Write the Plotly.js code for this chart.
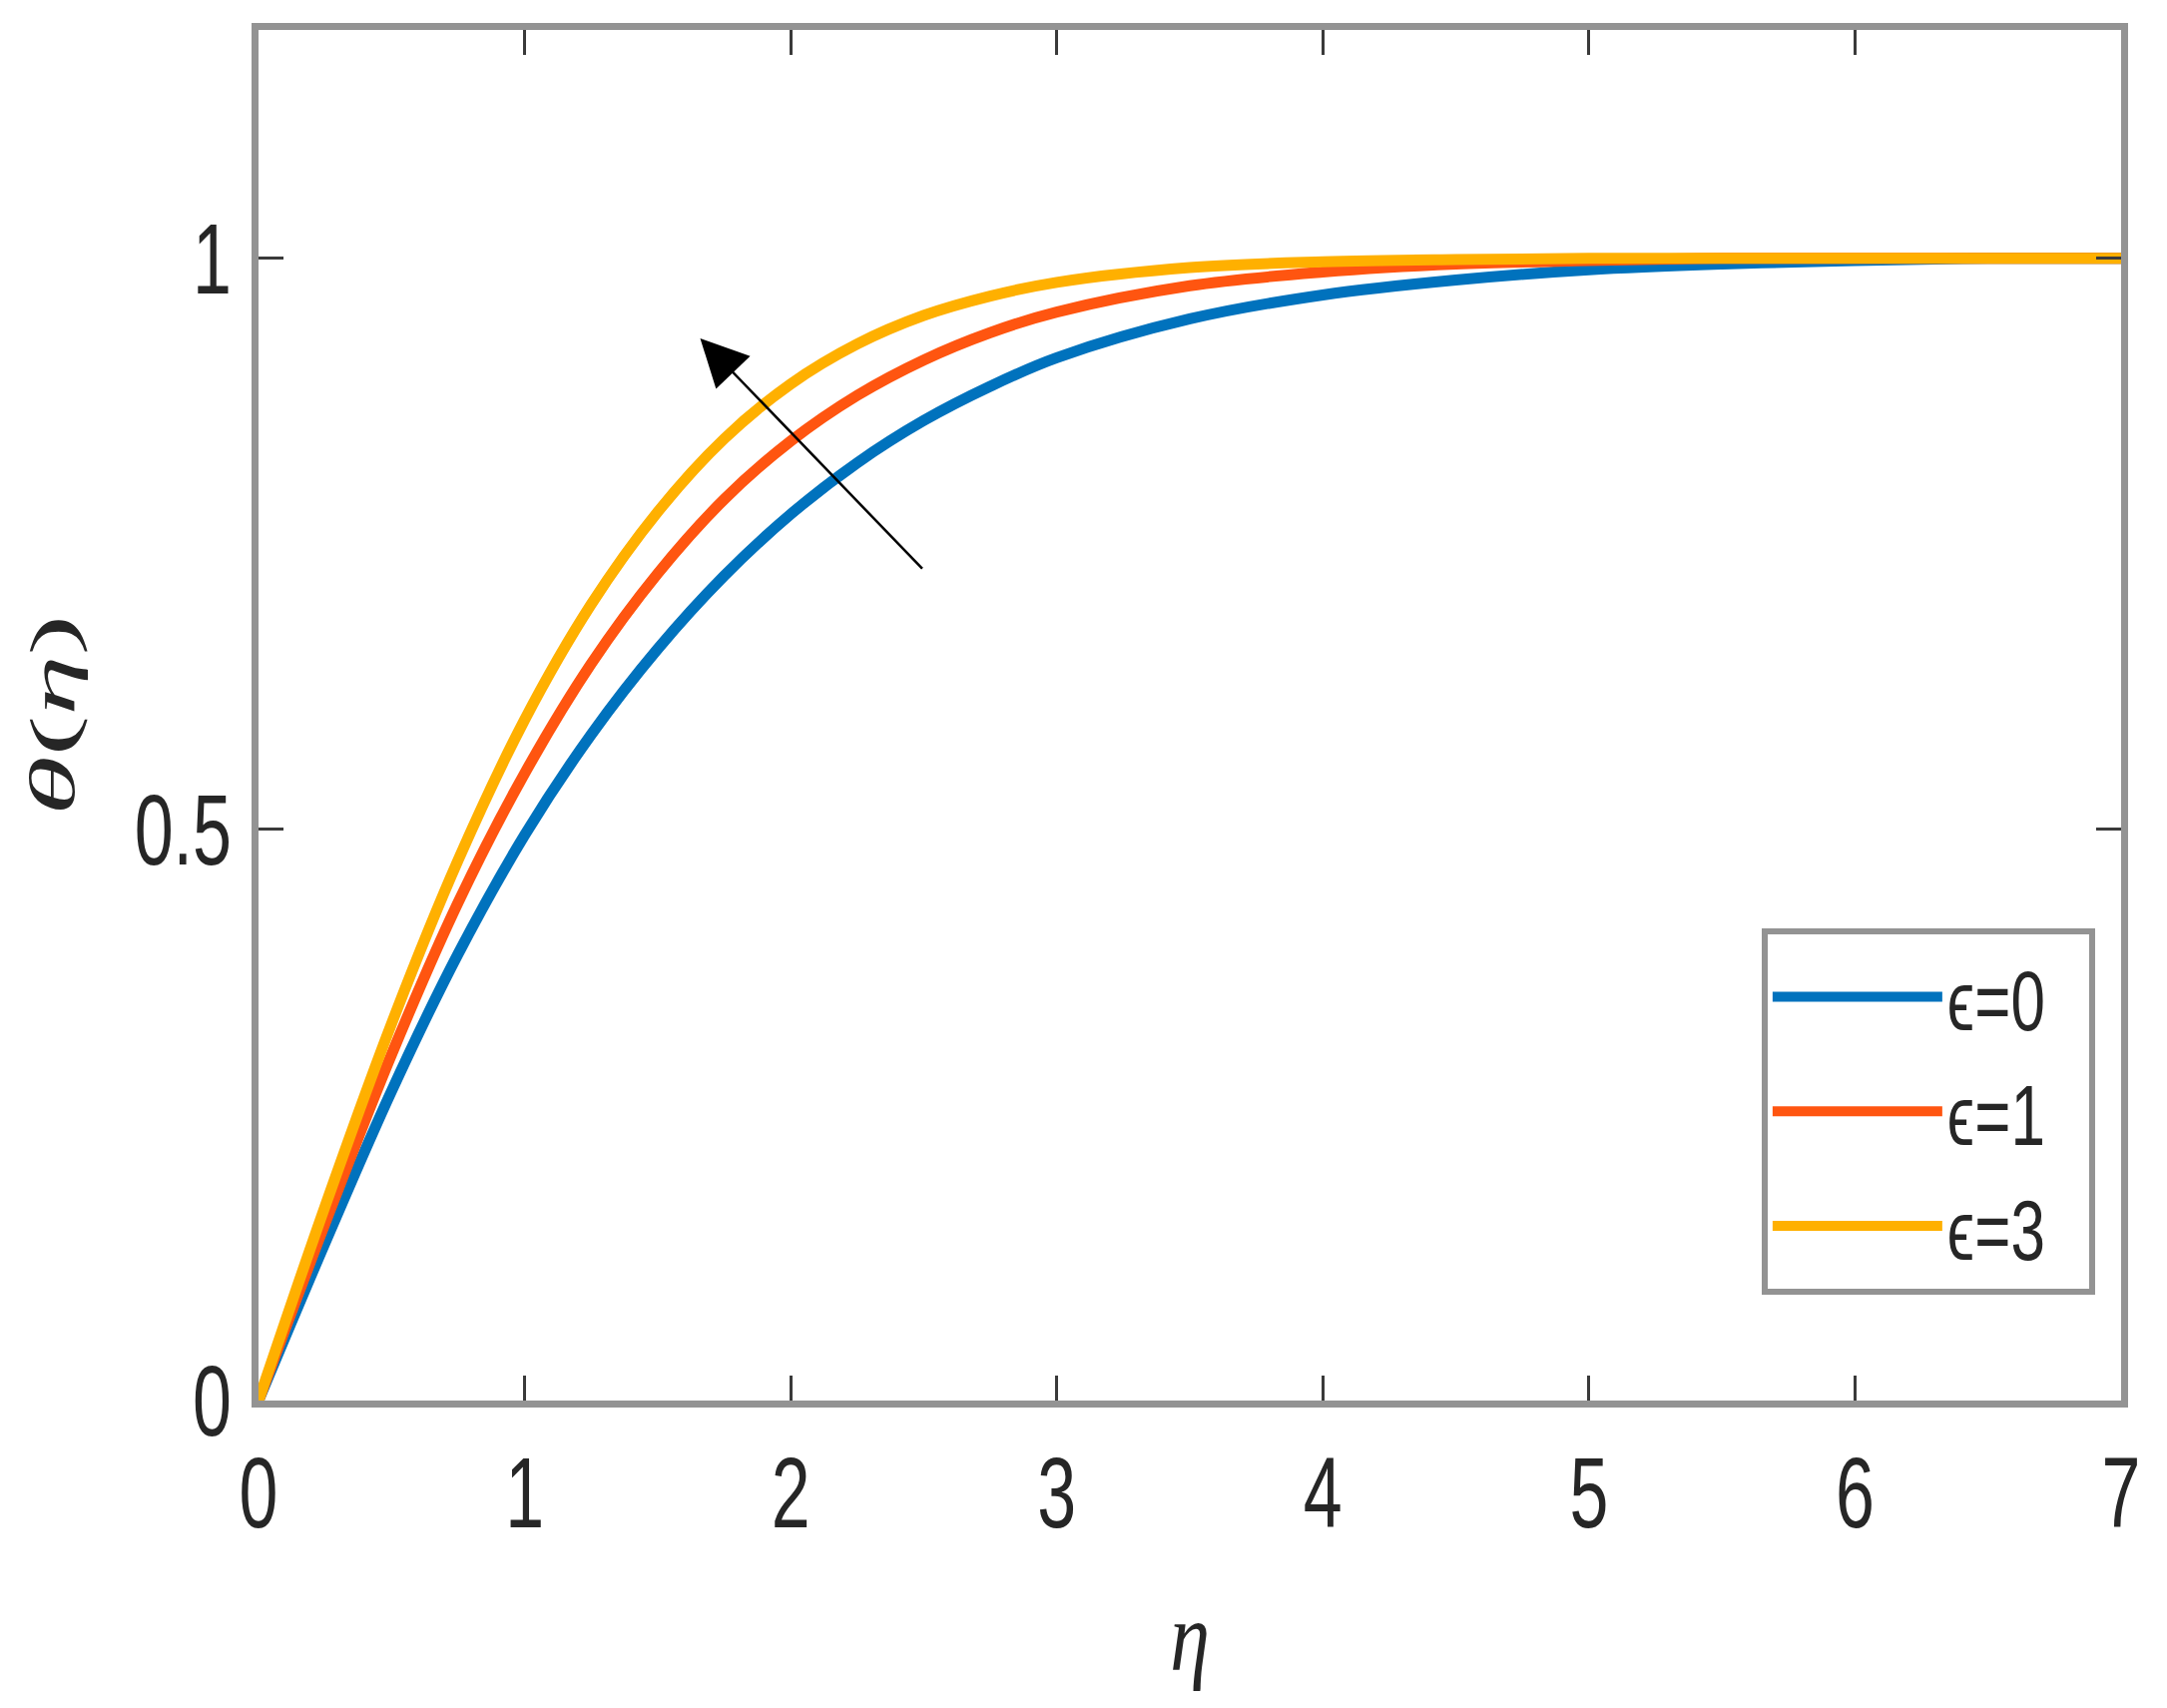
<!DOCTYPE html>
<html>
<head>
<meta charset="utf-8">
<script src="https://cdn.plot.ly/plotly-3.0.1.min.js"></script>
<style>
  html, body { margin: 0; padding: 0; background: #ffffff; }
  #theta_plot { width: 2171px; height: 1711px; }
</style>
</head>
<body>
<div id="theta_plot"></div>
<script>
// theta(eta) profiles for three epsilon values
var eta = [0, 0.25, 0.5, 0.75, 1, 1.25, 1.5, 1.75, 2, 2.25, 2.5, 2.75, 3, 3.5, 4, 4.5, 5, 5.5, 6, 6.5, 7];

var theta_eps0 = [0, 0.138, 0.271, 0.391, 0.495, 0.583, 0.658, 0.722, 0.776, 0.821, 0.858, 0.888, 0.913, 0.947, 0.968, 0.981, 0.990, 0.995, 0.998, 1.0, 1.0];
var theta_eps1 = [0, 0.155, 0.303, 0.436, 0.549, 0.645, 0.724, 0.789, 0.840, 0.880, 0.911, 0.935, 0.953, 0.976, 0.988, 0.995, 0.998, 1.0, 1.0, 1.0, 1.0];
var theta_eps3 = [0, 0.170, 0.330, 0.473, 0.596, 0.697, 0.778, 0.842, 0.890, 0.925, 0.950, 0.967, 0.979, 0.992, 0.997, 0.999, 1.0, 1.0, 1.0, 1.0, 1.0];

var legend_names = ['\u03f5=0', '\u03f5=1', '\u03f5=3'];
var line_colors = ['#0072BD', '#FF5510', '#FFB000'];

// arrow: tail and head, in data units
var arrow_tail = [2.5, 0.727];
var arrow_head = [1.66, 0.93];

var tickFont = { family: 'Liberation Sans, Arial, sans-serif', size: 100, color: '#262626' };
var legendFont = { family: 'Liberation Sans, Arial, sans-serif', size: 86, color: '#262626' };
var mathFont = { family: 'Liberation Serif, DejaVu Serif, serif', size: 64, color: '#262626' };

var allTheta = [theta_eps0, theta_eps1, theta_eps3];
var data = allTheta.map(function(th, i) {
  return {
    x: eta,
    y: th,
    type: 'scatter',
    mode: 'lines',
    name: legend_names[i],
    line: { color: line_colors[i], width: 11, shape: 'spline', smoothing: 1 }
  };
});

var axisCommon = {
  showgrid: false,
  zeroline: false,
  showline: true,
  linecolor: '#939393',
  linewidth: 7,
  mirror: 'ticks',
  ticks: 'inside',
  ticklen: 25,
  tickwidth: 3,
  tickcolor: '#3a3a3a',
  tickfont: tickFont
};

var layout = {
  width: 2171,
  height: 1711,
  paper_bgcolor: '#ffffff',
  plot_bgcolor: '#ffffff',
  margin: { l: 259, r: 46, t: 30, b: 308 },
  showlegend: true,
  xaxis: Object.assign({}, axisCommon, {
    range: [0, 7],
    dtick: 1,
    tick0: 0,
    ticklabelstandoff: 0,
    title: { text: '<i>\u03b7</i>', font: { family: mathFont.family, size: 100, color: '#262626' }, standoff: 55 }
  }),
  yaxis: Object.assign({}, axisCommon, {
    range: [0, 1.2],
    tickvals: [0, 0.5, 1],
    ticktext: ['0', '0.5', '1'],
    ticklabelstandoff: 0,
    title: { text: '<i>\u03b8</i>(<i>\u03b7</i>)', font: mathFont, standoff: 0 }
  }),
  legend: {
    x: 0.807,
    y: 0.3445,
    xanchor: 'left',
    yanchor: 'top',
    bgcolor: '#ffffff',
    bordercolor: '#939393',
    borderwidth: 6,
    itemwidth: 170,
    entrywidth: 270,
    font: legendFont
  },
  annotations: [{
    x: arrow_head[0],
    y: arrow_head[1],
    ax: arrow_tail[0],
    ay: arrow_tail[1],
    xref: 'x',
    yref: 'y',
    axref: 'x',
    ayref: 'y',
    text: '',
    showarrow: true,
    arrowhead: 2,
    arrowsize: 3.8,
    arrowwidth: 2.5,
    arrowcolor: '#000000'
  }]
};

// the source figure has tall, narrow lettering: squeeze (or stretch) text along its baseline
function scaleText(selector, factor) {
  document.querySelectorAll(selector).forEach(function(t) {
    var len = t.getComputedTextLength();
    if (len > 0) {
      t.setAttribute('textLength', (len * factor).toFixed(1));
      t.setAttribute('lengthAdjust', 'spacingAndGlyphs');
    }
  });
}

//plot the profiles
Plotly.newPlot('theta_plot', data, layout, { displayModeBar: false, staticPlot: true }).then(function() {
  scaleText('#theta_plot .xtick text, #theta_plot .ytick text', 0.7);
  scaleText('#theta_plot .legendtext', 0.72);
  scaleText('#theta_plot .g-xtitle text', 0.8);
  scaleText('#theta_plot .g-ytitle text', 1.9);
});
</script>
</body>
</html>
